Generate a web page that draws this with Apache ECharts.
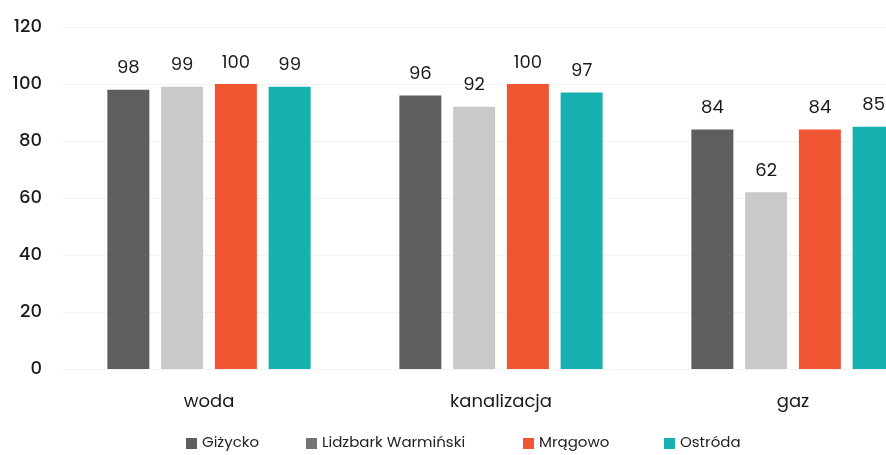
<!DOCTYPE html>
<html>
<head>
<meta charset="utf-8">
<script src="https://cdn.jsdelivr.net/npm/echarts@6/dist/echarts.min.js"></script>
<style>html,body{margin:0;padding:0;background:#fff;overflow:hidden;width:886px;height:455px}#c{width:940px;height:455px}</style>
</head>
<body>
<div id="c"></div>
<script>
var categories = ['woda', 'kanalizacja', 'gaz'];
var seriesNames = ['Giżycko', 'Lidzbark Warmiński', 'Mrągowo', 'Ostróda'];
var gizycko = [98, 96, 84];
var lidzbark = [99, 92, 62];
var mragowo = [100, 100, 84];
var ostroda = [99, 97, 85];
var yTicks = [0, 20, 40, 60, 80, 100, 120];

var colors = ['#5e5e5e', '#c9c9c7', '#ef5530', '#18b1b2'];
var legendColors = ['#5e5e5e', '#747474', '#ef5530', '#18b1b2'];
var legendLeft = [181, 301, 518, 659];
var values = [gizycko, lidzbark, mragowo, ostroda];
var font = 'Poppins, Inter, "Noto Sans", sans-serif';

var chart = echarts.init(document.getElementById('c'));
chart.setOption({
  animation: false,
  textStyle: {fontFamily: font},
  grid: {left: 63, right: 1, top: 27, bottom: 86, containLabel: false},
  legend: seriesNames.map(function (n, i) {
    return {
      left: legendLeft[i], top: 431,
      itemWidth: 11, itemHeight: 11, itemGap: 4,
      icon: 'rect',
      textStyle: {fontSize: 15, color: '#222', fontFamily: font},
      data: [{name: n, itemStyle: {color: legendColors[i]}}]
    };
  }),
  xAxis: {
    type: 'category', data: categories,
    axisLine: {show: false}, axisTick: {show: false},
    axisLabel: {fontSize: 18, color: '#1a1a1a', margin: 24}
  },
  yAxis: {
    type: 'value', min: 0, max: 120, interval: 20,
    axisLine: {show: false}, axisTick: {show: false},
    axisLabel: {fontSize: 18, color: '#1a1a1a', margin: 21, fontWeight: 500},
    splitLine: {lineStyle: {color: '#f3f3f3'}}
  },
  series: seriesNames.map(function (n, i) {
    return {
      name: n, type: 'bar', data: values[i],
      barWidth: 42, barGap: '28%',
      itemStyle: {color: colors[i]},
      label: {show: true, position: 'top', distance: 12, fontSize: 18, color: '#1a1a1a'}
    };
  })
});
</script>
</body>
</html>
